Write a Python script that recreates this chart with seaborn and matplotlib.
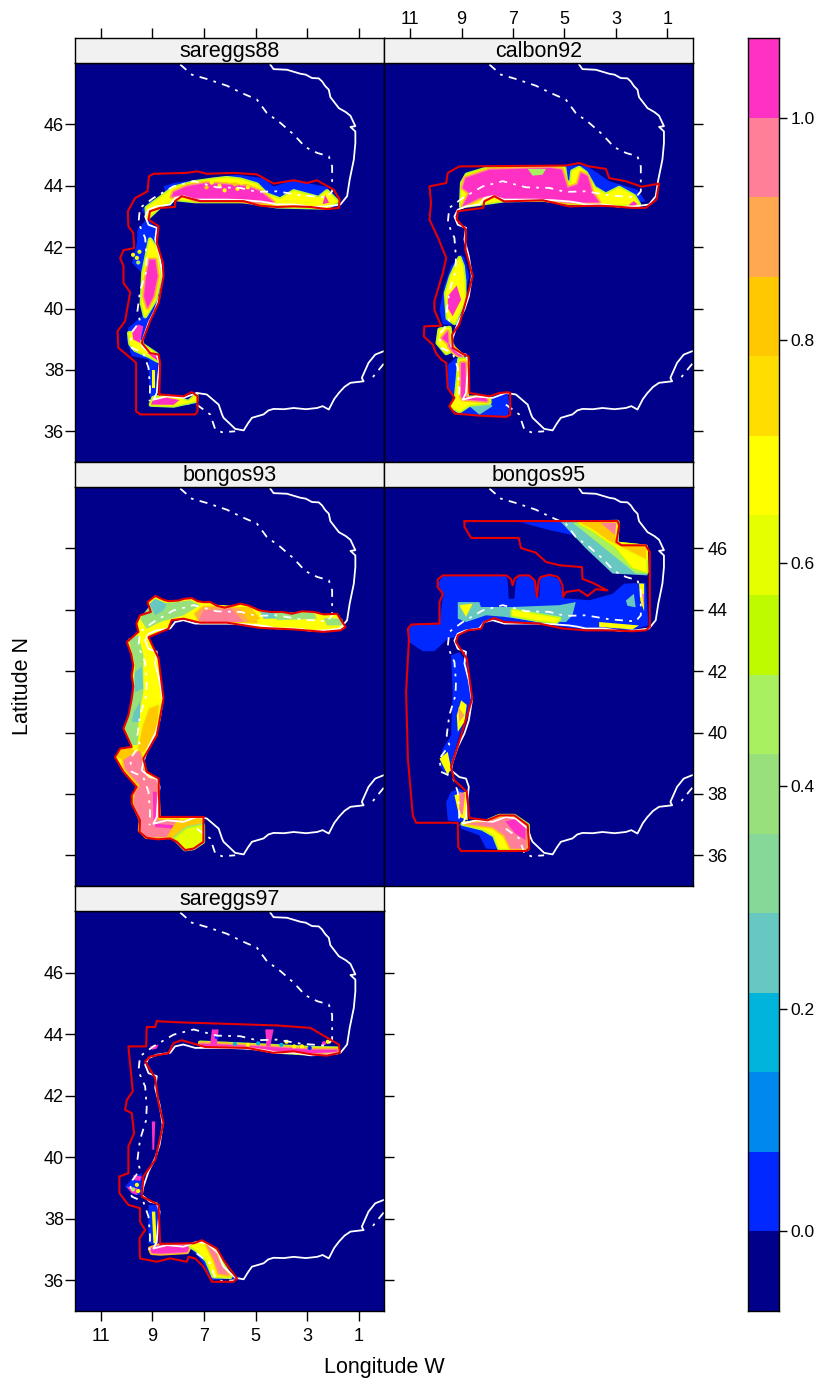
import numpy as np
import matplotlib
matplotlib.use("Agg")
import matplotlib.pyplot as plt
import seaborn as sns
from matplotlib.colors import ListedColormap, BoundaryNorm

level_colors = ["#00008B", "#0028FF", "#0088EE", "#00B4DC", "#66C8C0", "#86D898",
                "#98E07C", "#A8F060", "#BEFA00", "#E6FF00", "#FFFF00", "#FFDD00",
                "#FFC800", "#FFA850", "#FF7F98", "#FF30C4"]
level_edges = [-1/14 + i/14 for i in range(17)]
colorbar_ticks = [0.0, 0.2, 0.4, 0.6, 0.8, 1.0]
lon_ticks = [11, 9, 7, 5, 3, 1]
lat_ticks = [46, 44, 42, 40, 38, 36]

# coastline, lon W / lat N
coast = [(4.43,47.95),(4.30,47.80),(3.78,47.78),(3.26,47.65),(3.05,47.62),(2.81,47.51),(2.55,47.50),(2.42,47.40),(2.30,47.25),
         (2.16,47.13),(2.10,46.89),(1.77,46.53),(1.50,46.40),(1.32,46.28),(1.13,45.94),(1.32,45.92),(1.13,45.77),(1.13,45.39),
         (1.19,44.85),(1.35,44.20),(1.45,43.66),(1.71,43.39),(2.23,43.33),(2.87,43.31),(3.20,43.36),(3.52,43.39),(4.17,43.39),(4.50,43.45),(4.82,43.49),
         (5.46,43.53),(6.11,43.55),(6.76,43.55),(7.34,43.55),(7.80,43.66),(8.12,43.60),(8.31,43.39),(8.83,43.33),(9.15,43.22),
         (9.28,43.0),(9.15,42.73),(8.83,42.63),(8.89,42.25),(8.72,41.70),(8.60,41.05),(8.72,40.40),(8.89,39.97),(9.15,39.53),
         (9.35,39.04),(9.41,38.77),(9.09,38.55),(8.83,38.50),(8.72,38.23),(8.79,37.69),(8.83,37.25),(8.96,37.03),(8.44,37.14),
         (7.79,37.09),(7.28,37.25),(6.89,37.20),(6.43,36.87),(6.30,36.55),(6.24,36.44),(6.00,36.25),(5.79,36.08),(5.46,36.03),(5.30,36.25),(5.14,36.44),(4.69,36.55),
         (4.50,36.68),(4.30,36.73),(3.90,36.72),(3.52,36.76),(3.05,36.72),(2.61,36.76),(2.40,36.82),(2.16,36.71),(1.95,37.05),(1.77,37.25),(1.55,37.45),(1.32,37.58),(0.81,37.63),(0.88,37.74),(0.62,38.23),
         (0.36,38.50),(0.03,38.61)]
# shelf edge, three separate stretches
isobath_north = [(7.92,47.95),(7.47,47.62),(6.89,47.48),(6.11,47.26),(5.53,47.02),(4.95,46.81),(4.56,46.37),(4.04,46.05),
                 (3.52,45.67),(3.07,45.26),(2.61,45.07),(2.16,44.96),(2.03,44.63),(2.03,43.82),(2.23,43.62),(3.26,43.69),
                 (4.17,43.82),(4.95,43.80),(5.59,43.93),(6.50,43.95),(7.40,44.15),(8.18,43.98),(8.96,43.60),(9.48,43.28),
                 (9.54,42.79),(9.28,42.30),(9.22,41.65),(9.24,41.21),(9.48,40.56),(9.58,39.91),(9.48,39.59),(9.86,39.15),
                 (9.80,38.72),(9.35,38.55),(9.15,38.07),(9.09,37.41),(9.11,36.98)]
isobath_south = [(7.28,36.87),(6.76,36.55),(6.56,36.06),(6.30,35.97),(5.79,36.0)]
isobath_east = [(0.03,38.2),(0.42,37.8),(0.55,37.6)]

# survey limits per survey
sareggs88_survey = [(8.73,37.20),(7.79,37.14),(7.47,37.28),(7.25,37.14),(7.25,36.65),(7.34,36.55),(9.47,36.55),(9.63,36.65),
                    (9.63,38.23),(9.93,38.45),(10.32,38.72),(10.35,39.26),(10.06,39.59),(9.86,40.53),(10.12,40.83),(10.12,41.38),
                    (10.25,41.65),(10.12,41.90),(9.71,41.97),(9.74,42.46),(9.93,42.68),(9.95,43.17),(9.67,43.60),(9.19,43.82),
                    (9.13,44.31),(8.96,44.39),(7.66,44.42),(7.27,44.47),(6.89,44.39),(5.85,44.42),(4.94,44.37),(4.30,44.07),
                    (3.52,44.18),(3.00,44.09),(2.62,44.18),(1.97,43.87),(1.74,43.55),(1.77,43.28),(2.23,43.24),(2.87,43.31),
                    (3.52,43.33),(4.17,43.31),(4.82,43.35),(5.46,43.50),(7.14,43.50),(7.86,43.66),(8.12,43.50),(8.12,43.31),
                    (8.70,43.28),(9.09,43.17),(9.15,42.90),(8.76,42.68),(8.83,42.14),(8.59,41.48),(8.57,41.05),(8.76,40.18),
                    (9.09,39.59),(9.41,38.88),(9.09,38.55),(8.76,38.50),(8.70,38.23),(8.73,37.20)]
calbon92_survey = [(7.21,37.27),(7.11,37.25),(7.11,36.54),(7.27,36.47),(8.31,36.51),(9.28,36.58),(9.48,36.82),(9.28,37.09),
                   (9.54,37.41),(9.60,38.23),(9.80,38.34),(10.0,38.55),(10.12,38.82),(10.47,39.09),(10.45,39.42),(9.80,39.44),
                   (10.06,39.96),(10.06,40.24),(9.73,41.16),(9.60,41.65),(9.89,42.25),(10.25,42.90),(10.19,43.44),(10.25,43.98),
                   (9.60,44.09),(9.54,44.42),(9.09,44.63),(4.94,44.66),(4.43,44.74),(4.04,44.63),(3.39,44.55),(3.26,44.25),
                   (2.62,44.15),(1.99,43.97),(1.32,44.07),(1.42,43.55),(1.84,43.28),(2.36,43.28),(3.13,43.33),(3.65,43.35),
                   (4.82,43.33),(5.85,43.53),(7.34,43.49),(7.73,43.66),(8.12,43.49),(8.16,43.28),(9.15,43.17),(9.19,42.90),
                   (8.83,42.57),(8.85,41.92),(8.57,41.05),(8.89,40.07),(9.09,39.48),(9.37,39.15),(9.35,38.72),(9.02,38.55),
                   (8.73,38.44),(8.70,37.25),(7.92,37.14),(7.53,37.25),(7.21,37.27)]
bongos93_survey = [(7.02,37.25),(7.02,36.44),(7.40,36.22),(7.73,36.17),(8.05,36.44),(8.31,36.55),(8.80,36.52),(9.22,36.57),(9.50,36.76),
                   (9.48,37.14),(9.80,37.68),(9.80,37.96),(9.61,38.23),(10.12,38.72),(10.45,39.20),(10.25,39.48),(9.80,39.53),
                   (10.12,40.13),(9.93,40.56),(9.80,41.11),(9.74,41.50),(9.80,41.85),(9.74,42.19),(9.82,42.55),(9.99,42.95),(9.54,43.28),(9.62,43.55),(9.48,43.82),(9.06,43.93),
                   (9.19,44.25),(8.89,44.45),(8.55,44.32),(8.38,44.28),(8.00,44.30),(7.75,44.36),(7.47,44.38),(7.25,44.28),(7.02,44.25),(6.75,44.25),(6.50,44.13),(6.20,44.07),(5.95,44.12),
                   (5.59,44.20),(5.25,44.13),(4.85,43.98),(4.43,43.93),(3.95,43.93),(3.60,43.87),(3.20,43.95),(2.74,43.93),(2.35,43.85),
                   (1.84,43.87),(1.51,43.44),(1.71,43.33),(2.36,43.28),(3.52,43.36),(4.82,43.41),(6.11,43.58),(7.15,43.58),
                   (7.79,43.71),(8.25,43.66),(8.38,43.38),(9.15,43.11),(8.76,42.41),(8.57,41.11),(8.83,39.91),(9.35,39.15),
                   (9.22,38.72),(8.76,38.50),(8.72,37.25),(7.02,37.25)]
bongos95_survey = [(8.89,46.89),(2.94,46.89),(2.87,46.75),(2.98,46.21),(2.78,46.10),(1.84,46.10),(1.68,45.88),(1.68,43.44),
                   (1.84,43.33),(2.36,43.30),(3.26,43.33),(4.17,43.33),(5.07,43.39),(5.98,43.55),(7.34,43.60),(7.73,43.73),
                   (8.12,43.60),(8.25,43.38),(8.76,43.33),(9.15,43.17),(9.22,42.95),(8.80,42.41),(8.59,41.11),(8.80,40.51),
                   (9.02,39.91),(9.41,38.88),(9.29,38.45),(8.80,38.07),(8.70,37.22),(7.99,37.14),(7.53,37.30),(6.95,37.30),
                   (6.43,36.98),(6.37,36.22),(6.50,36.14),(9.02,36.14),(9.13,36.27),(9.15,37.06),(10.77,37.06),(10.90,37.30),
                   (11.09,39.15),(11.16,41.32),(11.09,42.41),(11.05,43.0),(11.09,43.38),(10.96,43.52),(9.86,43.55),(9.86,44.25),
                   (9.73,44.52),(9.93,44.74),(9.93,44.99),(9.73,45.12),(7.27,45.12),(7.08,45.00),(7.02,44.80),(6.93,45.02),(6.76,45.12),(6.37,45.12),(6.15,44.95),
                   (6.07,44.42),(6.00,44.95),(5.92,45.07),(5.59,45.14),(5.28,45.08),(5.20,45.01),(5.08,44.80),(5.05,44.42),(4.94,44.58),(4.43,44.64),(4.10,44.45),
                   (3.78,44.67),(3.33,44.63),(3.91,44.88),(4.30,45.01),(4.32,45.39),(5.20,45.45),(5.72,45.56),(6.11,45.86),
                   (6.69,46.01),(6.78,46.34),(8.63,46.34),(8.89,46.70),(8.89,46.89)]
sareggs97_survey = [(8.83,44.42),(7.92,44.38),(6.37,44.34),(4.17,44.28),(2.87,44.20),(1.77,43.66),(1.73,43.39),(2.23,43.30),
                    (2.74,43.33),(3.52,43.44),(4.30,43.39),(5.33,43.55),(6.95,43.58),(7.86,43.80),(8.18,43.71),(8.38,43.38),
                    (9.09,43.27),(9.28,43.11),(8.89,42.57),(8.76,41.76),(8.57,41.11),(8.89,39.91),(9.35,39.37),(9.41,38.72),
                    (8.76,38.45),(8.70,37.18),(7.40,37.20),(7.08,37.30),(6.50,37.03),(6.24,36.65),(5.72,36.06),(5.85,35.95),
                    (6.69,35.95),(7.02,36.44),(7.34,36.71),(7.60,36.76),(7.66,36.60),(8.31,36.71),(8.83,36.60),(9.48,36.71),
                    (9.50,37.36),(9.28,37.63),(9.48,37.90),(9.48,38.34),(9.93,38.45),(10.28,38.83),(10.28,39.37),(9.93,39.48),
                    (9.93,40.35),(9.71,40.78),(9.80,41.43),(10.06,41.54),(9.99,41.86),(9.76,42.14),(9.84,42.84),(9.93,43.60),
                    (9.24,43.60),(9.22,44.23),(8.89,44.23),(8.83,44.42)]

# density areas, value then outline, painted in this order
sareggs88_fields = [
    (0.04, [(1.71,43.49),(2.23,43.96),(3.52,44.18),(4.30,43.98),(4.69,44.25),(5.72,44.36),(6.76,44.25),(8.18,44.09),(8.57,43.98),
            (8.44,43.66),(9.09,43.50),(9.41,43.22),(9.19,42.90),(8.70,43.33),(8.12,43.57),(7.34,43.50),(5.46,43.50),(4.17,43.31),(2.23,43.26),(1.77,43.33)]),
    (0.04, [(9.19,42.95),(9.58,42.57),(9.60,42.14),(9.79,41.49),(9.41,41.16),(9.47,40.40),(9.41,39.75),(9.93,39.37),(10.0,38.99),(9.80,38.45),
            (9.15,38.34),(9.11,37.41),(9.09,37.09),(8.83,37.25),(8.79,38.23),(9.09,38.55),(9.41,38.83),(9.19,39.48),(8.83,40.07),(8.67,41.05),(8.80,42.14),(8.83,42.57)]),
    (0.68, [(1.84,43.49),(2.23,43.82),(2.55,43.60),(3.52,43.82),(4.04,43.55),(4.56,43.71),(4.95,44.04),(5.59,44.20),(6.11,44.25),(6.63,44.20),
            (7.40,44.11),(8.18,43.93),(8.70,43.60),(9.22,43.28),(9.19,42.95),(8.70,43.33),(8.12,43.57),(7.34,43.50),(5.46,43.50),(4.17,43.33),(2.23,43.29)]),
    (1.04, [(4.30,43.46),(4.82,43.82),(5.33,43.98),(6.11,44.04),(6.89,44.09),(7.66,43.98),(8.18,43.79),(8.25,43.64),(7.79,43.70),(7.34,43.53),(5.85,43.53),(4.82,43.46)]),
    (0.68, [(9.09,42.25),(9.35,41.16),(9.41,40.18),(9.28,39.75),(8.89,40.29),(8.70,41.05),(8.83,41.92)]),
    (1.04, [(9.11,41.59),(9.24,41.05),(9.32,40.40),(9.19,40.02),(8.96,40.40),(8.80,41.05),(8.89,41.59)]),
    (0.68, [(9.67,38.66),(9.09,38.44),(8.79,38.30),(8.83,38.50),(9.41,38.83),(9.70,39.20),(9.90,39.20),(9.85,38.85)]),
    (1.04, [(9.80,39.31),(9.54,39.48),(9.35,39.42),(9.48,38.88),(9.74,38.99)]),
    (1.04, [(9.20,38.56),(8.85,38.48),(8.80,38.30),(9.00,38.42)]),
    (0.68, [(9.02,38.00),(8.90,38.00),(8.90,37.40),(9.02,37.40)]),
    (0.04, [(7.86,37.00),(7.30,37.15),(7.25,36.90),(7.86,36.85)]),
    (0.68, [(9.06,36.87),(8.96,37.09),(8.44,37.14),(7.86,37.03),(7.60,36.95),(7.30,37.18),(7.30,37.00),(8.18,36.84)]),
    (1.04, [(9.06,36.87),(8.96,37.05),(8.44,37.10),(7.95,37.02),(8.18,36.86)]),
    (1.04, [(2.30,43.70),(2.15,43.45),(2.40,43.40)]),
]
calbon92_fields = [
    (0.04, [(1.84,43.49),(2.16,43.87),(3.26,44.15),(3.91,44.53),(4.17,44.66),(4.94,44.66),(5.33,44.58),(7.92,44.58),(8.89,44.36),(9.09,43.87),
            (9.02,43.33),(8.31,43.49),(7.92,43.63),(7.34,43.53),(5.85,43.55),(4.82,43.44),(3.13,43.39)]),
    (0.68, [(2.10,43.39),(2.29,43.66),(2.87,43.93),(3.39,43.71),(3.84,43.93),(4.17,44.42),(4.43,44.58),(4.69,44.47),(4.75,44.04),(4.94,44.15),
            (5.01,44.58),(8.05,44.55),(8.80,44.36),(8.98,44.09),(9.02,43.33),(7.34,43.53),(5.85,43.55),(4.82,43.44),(3.13,43.39)]),
    (1.04, [(3.65,43.46),(3.91,43.77),(4.10,44.31),(4.36,44.42),(4.49,44.04),(4.88,43.93),(5.10,44.52),(5.59,44.58),(7.92,44.52),(8.85,44.25),
            (8.96,43.93),(8.70,43.76),(8.96,43.33),(8.31,43.60),(7.73,43.71),(7.34,43.55),(5.85,43.57),(4.82,43.46)]),
    (0.46, [(6.43,44.55),(5.72,44.55),(5.85,44.36),(6.24,44.33)]),
    (1.04, [(2.30,43.50),(2.15,43.40),(2.35,43.33),(2.50,43.38)]),
    (0.04, [(9.02,41.76),(9.41,41.38),(9.67,40.75),(9.86,39.96),(9.73,39.48),(9.15,39.48),(8.70,41.05),(8.89,41.65)]),
    (0.68, [(9.08,41.65),(9.41,41.05),(9.61,40.50),(9.54,39.69),(9.28,39.53),(8.89,40.29),(8.90,40.90),(8.96,41.38)]),
    (1.04, [(9.19,40.75),(9.54,40.40),(9.54,40.02),(9.35,39.75),(9.02,40.29)]),
    (0.68, [(9.86,39.31),(9.47,39.37),(9.41,38.88),(9.28,38.66),(9.60,38.55),(9.93,38.88)]),
    (1.04, [(9.76,39.04),(9.54,39.26),(9.50,38.77),(9.28,38.55),(8.96,38.39),(9.09,38.55)]),
    (0.04, [(9.54,38.17),(9.54,37.47),(9.28,37.09),(9.41,36.71),(9.09,36.54),(7.21,36.49),(7.12,36.82),(7.21,37.25),(7.92,37.09),(8.76,37.09),(8.76,38.39),(9.22,38.39)]),
    (0.25, [(8.70,36.82),(8.31,36.54),(7.79,36.82),(8.00,36.98)]),
    (0.68, [(9.09,38.34),(9.15,37.69),(9.22,37.09),(9.41,36.82),(9.09,36.65),(8.70,36.87),(7.92,36.93),(7.92,37.09),(8.80,37.09),(8.80,38.34)]),
    (1.04, [(9.02,38.23),(9.02,37.14),(8.96,37.04),(8.00,36.98),(8.05,37.09),(8.83,37.09),(8.86,38.23)]),
]
bongos93_fields = [
    (0.68, bongos93_survey),
    (0.39, [(9.48,43.71),(9.09,44.15),(7.53,44.31),(7.15,44.15),(7.79,43.82),(8.70,43.60),(9.22,43.38)]),
    (0.25, [(9.11,44.20),(8.89,44.36),(8.44,44.20),(8.57,43.98),(8.89,43.82)]),
    (0.89, [(7.34,43.87),(7.02,44.09),(6.50,44.09),(5.46,44.04),(4.95,43.60),(7.15,43.60)]),
    (0.96, [(7.21,43.66),(7.02,43.98),(5.94,44.04),(5.46,43.60),(7.02,43.60)]),
    (0.82, [(5.66,44.09),(5.20,44.09),(4.82,43.71),(5.20,43.55)]),
    (0.25, [(4.82,43.93),(4.30,43.93),(4.17,43.71),(4.69,43.71)]),
    (0.39, [(4.30,43.91),(2.74,43.91),(2.62,43.71),(4.17,43.66)]),
    (0.39, [(2.36,43.73),(1.64,43.71),(1.58,43.49),(2.23,43.49)]),
    (0.39, [(9.93,43.06),(9.54,43.17),(9.35,42.52),(9.35,41.32),(9.54,40.45),(9.54,39.59),(9.80,39.59),(10.06,40.13),(9.80,41.11),(9.67,42.19)]),
    (0.25, [(9.67,41.97),(9.41,42.14),(9.35,41.43),(9.67,41.32)]),
    (0.25, [(9.71,40.67),(9.48,40.99),(9.48,40.35),(9.80,40.35)]),
    (0.82, [(9.11,40.78),(8.76,40.89),(8.89,39.91),(9.35,39.37),(9.54,39.48),(9.35,40.24)]),
    (0.96, [(10.12,39.15),(9.48,39.39),(9.35,38.83),(9.19,38.52),(8.83,38.45),(8.76,37.30),(8.83,37.14),(7.99,37.14),(8.31,36.60),(9.22,36.60),
            (9.48,36.82),(9.44,37.14),(9.71,37.68),(9.67,38.01),(9.48,38.28),(10.06,38.83)]),
    (0.82, [(10.38,39.20),(10.25,39.46),(9.80,39.50),(9.67,39.37),(10.12,39.10)]),
    (1.04, [(8.98,38.07),(8.83,38.07),(8.86,37.20),(8.96,37.14)]),
    (1.04, [(8.89,37.03),(8.18,36.98),(8.18,36.87),(8.89,36.92)]),
    (0.82, [(8.44,36.60),(8.05,37.14),(7.08,37.22),(7.04,36.98),(7.79,36.44)]),
    (0.61, [(8.12,36.55),(7.66,36.87),(7.04,36.98),(7.04,36.44),(7.40,36.24),(7.73,36.20),(8.03,36.46)]),
]
bongos95_fields = [
    (0.04, [(6.70,46.85),(5.14,46.86),(4.50,46.40),(5.60,46.60)]),
    (0.25, [(5.14,46.86),(2.94,46.86),(2.98,46.15),(1.84,46.05),(1.77,45.12),(3.13,45.18),(4.17,46.0)]),
    (0.46, [(4.69,46.84),(2.94,46.86),(2.98,46.15),(1.84,46.05),(1.81,45.18),(2.23,45.18),(3.65,46.15)]),
    (0.68, [(4.43,46.83),(2.94,46.86),(2.98,46.15),(1.84,46.05),(1.81,45.23),(2.36,45.39),(3.0,46.05),(3.91,46.59)]),
    (0.82, [(4.36,46.83),(3.13,46.84),(2.98,46.15),(1.84,46.05),(1.84,45.67),(2.61,45.99),(3.26,46.26),(3.91,46.64)]),
    (0.96, [(3.59,46.83),(2.98,46.83),(3.03,46.43)]),
    (0.04, [(9.93,44.85),(9.73,45.10),(7.27,45.10),(7.21,44.95),(7.17,44.36),(6.95,44.36),(6.89,44.95),(6.76,45.10),(6.37,45.10),(6.15,44.95),(6.11,44.42),(5.98,44.42),(5.95,44.95),(5.92,45.07),(5.59,45.12),(5.20,44.99),
            (5.05,44.38),(4.04,44.31),(3.13,44.52),(2.68,44.85),(1.84,44.88),(1.73,43.49),(2.36,43.35),(4.17,43.36),(5.07,43.44),(5.98,43.58),
            (7.34,43.62),(7.73,43.75),(8.12,43.60),(8.31,43.38),(8.80,43.38),(9.22,43.11),(9.54,43.06),(10.06,42.65),(10.51,42.65),(11.05,42.95),
            (11.05,43.38),(10.90,43.52),(9.86,43.52),(9.76,44.25),(9.73,44.52)]),
    (0.0, [(3.52,43.82),(2.48,43.87),(2.48,43.66),(3.39,43.64)]),
    (0.0, [(9.41,45.09),(8.44,45.09),(8.96,44.82)]),
    (0.25, [(9.15,44.25),(8.31,44.25),(8.25,44.09),(7.02,44.09),(5.20,44.15),(4.56,44.25),(4.69,43.82),(4.94,43.60),(5.98,43.60),(7.34,43.77),(8.05,43.82),(8.83,43.60),(9.15,43.71)]),
    (0.68, [(9.09,44.15),(8.57,44.20),(8.83,43.77)]),
    (0.68, [(7.02,43.98),(5.98,43.82),(5.20,43.71),(5.33,43.60),(5.98,43.66),(7.02,43.82)]),
    (0.25, [(2.61,44.30),(2.30,44.52),(2.23,44.08),(2.55,44.13)]),
    (0.68, [(2.10,44.86),(1.90,44.85),(1.90,43.95),(2.05,44.30)]),
    (0.96, [(2.0,44.50),(1.90,44.50),(1.90,44.10)]),
    (0.68, [(3.65,43.60),(2.10,43.49),(2.36,43.36),(3.65,43.44)]),
    (0.04, [(9.41,42.52),(9.09,42.62),(8.80,42.30),(8.63,41.11),(8.83,40.45),(9.09,39.91),(9.41,38.93),(9.54,38.55),(9.86,38.93),(9.73,39.48),(9.41,39.91),(9.35,41.32)]),
    (0.68, [(9.02,41.05),(9.19,40.56),(9.15,40.02),(8.89,40.35),(8.80,40.90)]),
    (0.89, [(9.13,40.83),(9.09,40.35),(8.89,40.56)]),
    (0.68, [(9.86,39.15),(9.54,39.37),(9.41,38.83),(9.54,38.61)]),
    (0.04, [(9.41,38.07),(9.09,38.17),(8.83,38.07),(8.76,37.14),(9.09,37.09),(9.54,37.14),(9.60,37.74)]),
    (0.68, [(9.28,37.96),(8.83,38.07),(8.76,37.14),(9.09,37.25)]),
    (0.96, [(9.09,38.07),(8.86,38.01),(8.96,37.30),(9.09,37.41)]),
    (0.04, [(9.09,37.03),(8.00,37.11),(7.53,37.28),(6.95,37.28),(6.43,36.98),(6.37,36.22),(7.73,36.20),(8.05,36.22),(8.31,36.65),(9.02,36.87)]),
    (0.68, [(8.96,37.03),(8.00,37.11),(7.53,37.28),(6.95,37.28),(6.43,36.98),(6.43,36.22),(7.53,36.22),(7.73,36.65),(8.18,36.87)]),
    (0.96, [(8.83,37.03),(7.99,37.09),(7.53,37.22),(6.95,37.25),(6.46,36.92),(6.47,36.22),(7.08,36.22),(7.34,36.65),(7.79,36.92)]),
    (1.04, [(7.30,37.10),(6.95,37.18),(6.52,36.90),(6.52,36.50),(6.90,36.70)]),
]
sareggs97_fields = [
    (0.68, [(7.15,43.72),(4.82,43.63),(2.74,43.54),(1.84,43.53),(1.84,43.41),(2.74,43.36),(4.30,43.44),(5.33,43.60),(7.02,43.62)]),
    (1.04, [(7.15,43.69),(4.82,43.60),(2.74,43.49),(1.84,43.49),(1.84,43.43),(2.74,43.38),(4.30,43.46),(5.33,43.60),(7.02,43.62)]),
    (1.04, [(6.69,44.15),(6.43,44.15),(6.50,43.66),(6.76,43.66)]),
    (1.04, [(4.62,44.15),(4.30,44.15),(4.43,43.60),(4.58,43.60)]),
    (1.04, [(9.02,41.16),(8.89,41.16),(8.93,40.24),(9.00,40.24)]),
    (1.04, [(9.09,43.60),(8.76,43.66),(8.83,43.53),(9.02,43.49)]),
    (0.04, [(9.72,39.37),(9.41,39.48),(9.41,38.77),(9.67,38.77),(10.06,39.04)]),
    (1.04, [(9.74,39.42),(9.41,39.37),(9.48,39.23),(9.71,39.26)]),
    (1.04, [(10.0,39.04),(9.58,38.99),(9.58,38.77),(9.80,38.83)]),
    (0.04, [(9.15,38.45),(8.76,38.45),(8.76,37.14),(9.15,37.20)]),
    (0.68, [(9.02,38.23),(8.89,38.23),(8.83,37.20),(8.96,37.20)]),
    (1.04, [(9.09,37.03),(8.70,37.14),(7.53,37.14),(7.66,36.92),(8.70,36.87),(9.02,36.89)]),
    (0.04, [(7.60,37.11),(7.08,37.28),(6.50,37.02),(6.24,36.60),(5.79,36.06),(6.75,36.0),(7.02,36.55),(7.34,36.87)]),
    (0.68, [(7.53,37.11),(7.08,37.22),(6.56,36.98),(6.30,36.55),(5.98,36.11),(6.63,36.13),(6.89,36.65),(7.28,36.98)]),
    (0.96, [(6.89,37.14),(6.56,36.92),(6.37,36.55),(6.05,36.17),(6.43,36.22),(6.60,36.65)]),
]
# isolated flecks
sareggs88_flecks_lon = [6.7, 6.4, 6.0, 5.8, 5.55, 5.3, 6.9, 6.2, 5.7, 9.75, 9.6, 9.55, 9.5]
sareggs88_flecks_lat = [44.1, 44.0, 44.15, 44.05, 44.1, 43.95, 43.95, 43.85, 43.9, 41.75, 41.65, 41.5, 41.85]
sareggs88_flecks_val = [0.68, 0.68, 0.68, 0.82, 0.68, 0.68, 0.82, 0.68, 0.68, 0.68, 0.68, 0.46, 0.61]
sareggs97_flecks_lon = [5.3, 4.0, 3.5, 2.9, 2.2, 2.35, 3.2, 6.5, 5.8, 4.9, 3.8, 9.6, 9.55, 9.75]
sareggs97_flecks_lat = [43.65, 43.65, 43.6, 43.55, 43.75, 43.7, 43.6, 43.9, 43.68, 43.7, 43.75, 39.1, 38.9, 38.95]
sareggs97_flecks_val = [0.68, 0.18, 0.68, 0.04, 0.68, 1.04, 0.68, 0.04, 0.18, 0.18, 0.68, 0.68, 0.68, 0.46]

sns.set_theme(style="ticks")
plt.rcParams["font.family"] = ["Liberation Sans", "DejaVu Sans"]
plt.rcParams.update({"axes.linewidth": 1.0, "axes.edgecolor": "black", "text.color": "black",
                     "xtick.color": "black", "ytick.color": "black", "axes.labelcolor": "black",
                     "xtick.labelcolor": "black", "ytick.labelcolor": "black"})

W, H = 820, 1380
cmap = ListedColormap(level_colors)
norm = BoundaryNorm(level_edges, cmap.N)
step = level_edges[1] - level_edges[0]


def box(x0, y0, x1, y1):
    return [x0 / W, 1 - y1 / H, (x1 - x0) / W, (y1 - y0) / H]


def line(ax, pts, **kw):
    lons, lats = zip(*pts)
    sns.lineplot(x=list(lons), y=list(lats), sort=False, estimator=None, ax=ax, legend=False, **kw)


def fill_field(ax, value, pts, rim=True):
    lons, lats = zip(*pts)
    # soft rim of the lower classes round the strong areas
    if rim and value > 0.6 and len(pts) >= 6:
        for n, lw in [(3, 3.2), (2, 2.1), (1, 1.0)]:
            ax.fill(lons, lats, fc="none", ec=cmap(norm(value - n * step)), lw=lw, joinstyle="round")
    ax.fill(lons, lats, color=cmap(norm(value)), lw=0)


def draw_panel(fig, name, col, row, fields, survey, flecks=None):
    left, right = [(75, 384.5), (384.5, 693)][col]
    top, bottom = [(63, 462), (487, 886), (911, 1311)][row]
    ax = fig.add_axes(box(left, top, right, bottom))
    strip = fig.add_axes(box(left, top - 25, right, top))
    ax.set_facecolor(level_colors[0])
    strip.set_facecolor("#F1F1F1")
    strip.set_xlim(12, 0)
    strip.set_yticks([])
    strip.text(0.5, 0.46, name, transform=strip.transAxes, ha="center", va="center", fontsize=15.5)

    for value, pts in fields:
        fill_field(ax, value, pts, rim=pts is not survey)
    if flecks is not None:
        sns.scatterplot(x=flecks[0], y=flecks[1], hue=flecks[2], palette=cmap, hue_norm=norm,
                        s=9, linewidth=0, legend=False, ax=ax)
    for seg in [isobath_north, isobath_south, isobath_east]:
        line(ax, seg, color="white", lw=1.3, ls=(0, (4.5, 3.5, 1.5, 3.5)))
    line(ax, coast, color="white", lw=1.3)
    line(ax, survey, color="#E60000", lw=1.5)

    ax.set_xlim(12, 0)
    ax.set_ylim(35, 48)
    ax.set_xlabel("")
    ax.set_ylabel("")

    # lattice style alternating axes
    tick_kw = dict(length=7.5, width=1, color="black", labelsize=13)
    ax.set_yticks(lat_ticks)
    ax.tick_params(axis="y", left=col == 0, right=col == 1 or row == 2, pad=0.5 if col == 0 else 3,
                   labelleft=col == 0 and row != 1, labelright=col == 1 and row == 1, **tick_kw)
    ax.set_xticks(lon_ticks)
    ax.tick_params(axis="x", bottom=row == 2, labelbottom=row == 2, top=False, pad=5, **tick_kw)
    strip.set_xticks(lon_ticks if row == 0 else [])
    strip.tick_params(axis="x", bottom=False, labelbottom=False, top=row == 0, pad=0,
                      labeltop=row == 0 and col == 1, **tick_kw)
    return ax


fig = plt.figure(figsize=(W / 100, H / 100), dpi=100)
draw_panel(fig, "sareggs88", 0, 0, sareggs88_fields, sareggs88_survey,
           (sareggs88_flecks_lon, sareggs88_flecks_lat, sareggs88_flecks_val))
draw_panel(fig, "calbon92", 1, 0, calbon92_fields, calbon92_survey)
draw_panel(fig, "bongos93", 0, 1, bongos93_fields, bongos93_survey)
draw_panel(fig, "bongos95", 1, 1, bongos95_fields, bongos95_survey)
draw_panel(fig, "sareggs97", 0, 2, sareggs97_fields, sareggs97_survey,
           (sareggs97_flecks_lon, sareggs97_flecks_lat, sareggs97_flecks_val))

# colour key
cax = fig.add_axes(box(748, 38, 779, 1311))
mids = np.array([(a + b) / 2 for a, b in zip(level_edges[:-1], level_edges[1:])])[::-1]
sns.heatmap(mids.reshape(-1, 1), cmap=cmap, norm=norm, cbar=False, ax=cax, xticklabels=False)
for s in cax.spines.values():
    s.set_visible(True)
    s.set_linewidth(1.0)
cax.set_yticks([(level_edges[-1] - v) / step for v in colorbar_ticks])
cax.set_yticklabels([f"{v:.1f}" for v in colorbar_ticks], rotation=0)
cax.yaxis.tick_right()
cax.tick_params(axis="y", length=5.5, width=1, color="black", labelsize=12.5, pad=3)

fig.text(384 / W, 1 - 1368 / H, "Longitude W", ha="center", va="center", fontsize=15.5)
fig.text(23 / W, 1 - 686 / H, "Latitude N", ha="center", va="center", rotation=90, fontsize=15.5)

fig.savefig("out.png", dpi=100)
